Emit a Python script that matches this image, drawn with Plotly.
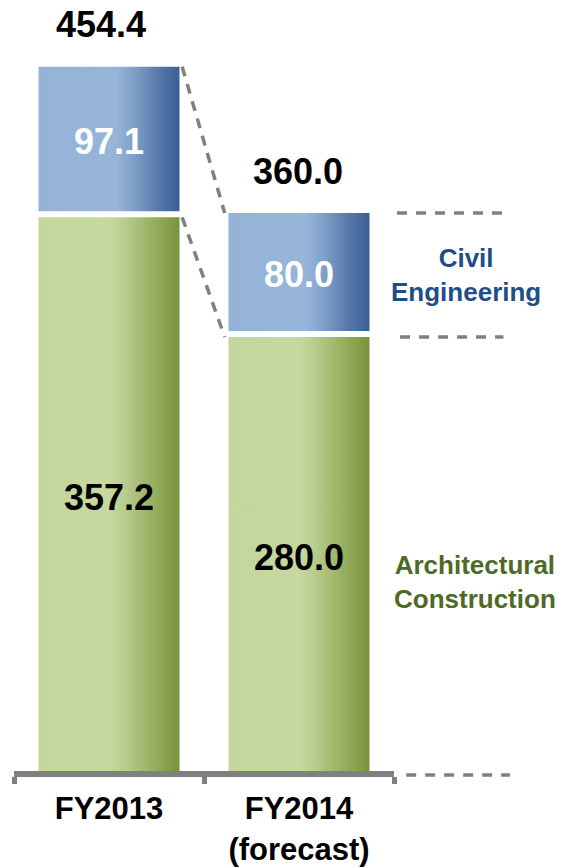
import plotly.graph_objects as go

# ---- data ----
categories = ["FY2013", "FY2014<br>(forecast)"]
architectural = [357.2, 280.0]
civil = [97.1, 80.0]
totals = [454.4, 360.0]
series_names = ["Architectural<br>Construction", "Civil<br>Engineering"]

# ---- style ----
FONT = "Liberation Sans, Arial, sans-serif"
GRAY = "#808080"
BAR_W = 0.742
Y_MAX = 480
PLOT_H = 744
GAP = 6 * Y_MAX / PLOT_H  # white separator (px -> units)

GREEN_SCALE = [[0, "#C3D69B"], [0.5, "#C5D89F"], [0.58, "#BDD094"],
               [0.78, "#9DB467"], [1, "#78933A"]]
BLUE_SCALE = [[0, "#95B3D7"], [0.55, "#97B5D8"], [0.68, "#7F9FC9"],
              [0.85, "#5878AA"], [1, "#3A5F96"]]

fig = go.Figure()

xs = list(range(len(categories)))


def seg(i, y0, y1, scale):
    x0, x1 = xs[i] - BAR_W / 2, xs[i] + BAR_W / 2
    fig.add_trace(go.Scatter(
        x=[x0, x1, x1, x0, x0], y=[y0, y0, y1, y1, y0],
        mode="lines", line=dict(width=0), fill="toself",
        fillgradient=dict(type="horizontal", colorscale=scale, start=x0, stop=x1),
        hoverinfo="skip", showlegend=False))


for i in xs:
    seg(i, 0, architectural[i], GREEN_SCALE)
    seg(i, architectural[i] + GAP, architectural[i] + civil[i], BLUE_SCALE)

# inside value labels
for i in xs:
    fig.add_annotation(x=xs[i], y=architectural[i] / 2, xref="x", yref="y",
                       text=f"{architectural[i]:.1f}", showarrow=False,
                       yanchor="middle", yshift=-3,
                       font=dict(family=FONT, size=36, color="black", weight="bold"))
    fig.add_annotation(x=xs[i], y=architectural[i] + GAP + (civil[i] - GAP) / 2,
                       xref="x", yref="y", text=f"{civil[i]:.1f}", showarrow=False,
                       yanchor="middle", yshift=-2,
                       font=dict(family=FONT, size=36, color="white", weight="bold"))

# invisible trace for the category axis
fig.add_trace(go.Scatter(x=categories, y=[None, None], xaxis="x2", yaxis="y",
                         mode="markers", showlegend=False, hoverinfo="skip"))

# totals above bars
for i in xs:
    fig.add_annotation(x=xs[i], y=totals[i], xref="x", yref="y",
                       text=f"{totals[i]:.1f}", showarrow=False,
                       yanchor="middle", yshift=42, xshift=-8 if i == 0 else -1,
                       font=dict(family=FONT, size=36, color="black", weight="bold"))

# dashed connectors between bars
for top0, top1 in [(totals[0], totals[1]), (architectural[0], architectural[1])]:
    fig.add_shape(type="line", xref="x", yref="y",
                  x0=xs[0] + BAR_W / 2 + 0.014, y0=top0,
                  x1=xs[1] - BAR_W / 2 - 0.02, y1=top1,
                  line=dict(color=GRAY, width=3.5, dash="10px,8px"))

# dashed guides on the right
for yv, xa, xb in [(totals[1], 1.008, 1.285), (architectural[1], 1.016, 1.288), (-2.6, 1.032, 1.305)]:
    fig.add_shape(type="line", xref="paper", yref="paper",
                  x0=xa, x1=xb, y0=yv / Y_MAX, y1=yv / Y_MAX,
                  line=dict(color=GRAY, width=3.5, dash="10px,9px"))

# series labels
fig.add_annotation(x=1.189, y=civil[1] / 2 + architectural[1], xref="paper", yref="y",
                   text=series_names[1], showarrow=False, xanchor="center", yanchor="middle",
                   font=dict(family=FONT, size=26, color="#1F4E87", weight="bold"))
fig.add_annotation(x=1.213, y=122, xref="paper", yref="y",
                   text=series_names[0], showarrow=False, xanchor="center", yanchor="middle",
                   font=dict(family=FONT, size=26, color="#4F6A26", weight="bold"))

# page body has an 8px margin, so the figure is drawn 8px in from the window edge
fig.update_layout(
    width=555, height=859,
    margin=dict(l=6, r=169, t=859 - 96 - PLOT_H, b=96, autoexpand=False),
    plot_bgcolor="white", paper_bgcolor="white",
    xaxis=dict(range=[-0.5, 1.5], visible=False, fixedrange=True, automargin=False),
    xaxis2=dict(type="category", categoryarray=categories, range=[-0.5, 1.5],
                overlaying="x", anchor="y", side="bottom", automargin=False,
                showline=True, linewidth=6, linecolor=GRAY,
                ticks="outside", tickson="boundaries", ticklen=7, tickwidth=5,
                tickcolor=GRAY, showgrid=False, ticklabelstandoff=5,
                tickfont=dict(family=FONT, size=31, color="black", weight="bold")),
    yaxis=dict(range=[0, Y_MAX], visible=False, fixedrange=True, automargin=False),
    showlegend=False,
)

fig.write_html("out.html")
